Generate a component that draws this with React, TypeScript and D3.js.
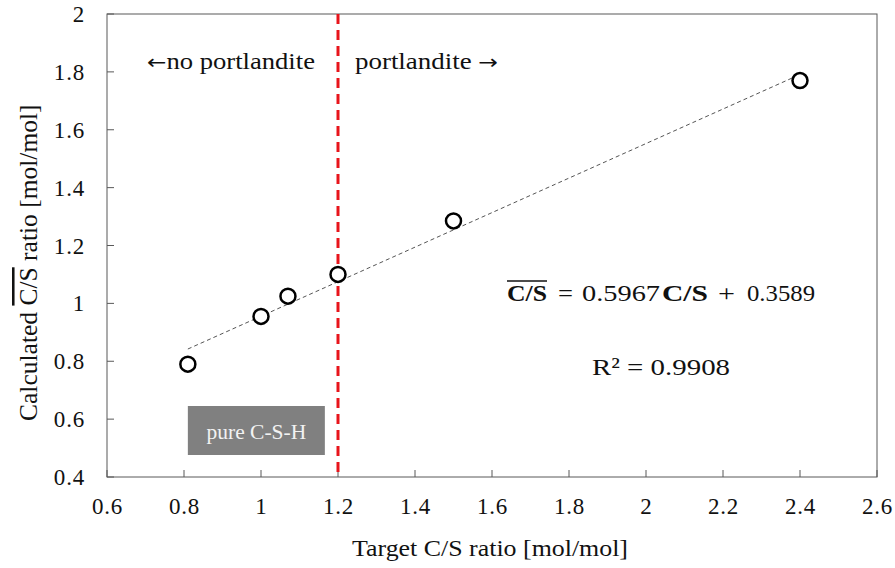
import React from "react";
import * as d3 from "d3";

// Target vs. calculated C/S ratio
const targetCS = [0.81, 1.0, 1.07, 1.2, 1.5, 2.4];
const calculatedCS = [0.79, 0.955, 1.025, 1.1, 1.285, 1.77];
const xTicks = [0.6, 0.8, 1, 1.2, 1.4, 1.6, 1.8, 2, 2.2, 2.4, 2.6];
const yTicks = [0.4, 0.6, 0.8, 1, 1.2, 1.4, 1.6, 1.8, 2];
const fitSlope = 0.5967;
const fitIntercept = 0.3589;
const rSquared = 0.9908;
const portlanditeLimit = 1.2;

const W = 895;
const H = 568;
const M = { left: 107, right: 18, top: 14, bottom: 91 };
const FONT = "'Liberation Serif', 'Times New Roman', serif";
const ARROW_FONT = "'DejaVu Sans', sans-serif";
const INK = "#111";

// Text fitted to a fixed width
function Wide(props: {
  x: number;
  y: number;
  w: number;
  size: number;
  bold?: boolean;
  fill?: string;
  children: React.ReactNode;
}) {
  return (
    <text
      x={props.x}
      y={props.y}
      fontSize={props.size}
      fontWeight={props.bold ? "bold" : "normal"}
      textLength={props.w}
      lengthAdjust="spacingAndGlyphs"
      fill={props.fill ?? INK}
    >
      {props.children}
    </text>
  );
}

export default function App() {
  const x = d3.scaleLinear().domain([0.6, 2.6]).range([M.left, W - M.right]);
  const y = d3.scaleLinear().domain([0.4, 2]).range([H - M.bottom, M.top]);
  const x0 = d3.min(targetCS) as number;
  const x1 = d3.max(targetCS) as number;
  const fitLine = d3
    .line<number>()
    .x((d) => x(d))
    .y((d) => y(fitSlope * d + fitIntercept))([x0, x1]);
  const fmt = (v: number) => String(+v.toFixed(1));

  return (
    <svg
      width={W}
      height={H}
      style={{ position: "absolute", left: 0, top: 0, background: "#fff" }}
      fontFamily={FONT}
    >
      {/* frame */}
      <rect
        x={M.left}
        y={M.top}
        width={W - M.left - M.right}
        height={H - M.top - M.bottom}
        fill="none"
        stroke="#595959"
        strokeWidth={1}
      />
      {/* y ticks */}
      {yTicks.map((t) => (
        <g key={"y" + t}>
          <line x1={M.left} x2={M.left + 7} y1={y(t)} y2={y(t)} stroke="#595959" />
          <text x={85} y={y(t)} dy="0.35em" textAnchor="end" fontSize={23} letterSpacing={0.8} fill={INK}>
            {fmt(t)}
          </text>
        </g>
      ))}
      {/* x ticks */}
      {xTicks.map((t) => (
        <g key={"x" + t}>
          <line x1={x(t)} x2={x(t)} y1={H - M.bottom} y2={H - M.bottom - 7} stroke="#595959" />
          <text x={x(t) + 0.5} y={514} textAnchor="middle" fontSize={23} letterSpacing={0.8} fill={INK}>
            {fmt(t)}
          </text>
        </g>
      ))}
      {/* axis titles */}
      <Wide x={352} y={556} w={276} size={23}>
        Target C/S ratio [mol/mol]
      </Wide>
      <text
        transform="translate(37, 421) rotate(-90)"
        fontSize={25.5}
        fill={INK}
      >
        Calculated <tspan style={{ textDecoration: "overline" }}>C/S</tspan> ratio [mol/mol]
      </text>

      {/* pure C-S-H box */}
      <rect x={x(0.81)} y={406} width={137} height={49} fill="#808080" />
      <text x={x(0.81) + 68.5} y={439} textAnchor="middle" fontSize={21.5} fill="#f2f2f2">
        pure C-S-H
      </text>

      {/* regression line */}
      <path d={fitLine ?? ""} fill="none" stroke="#555" strokeWidth={1} strokeDasharray="4,3" />

      {/* portlandite boundary */}
      <line
        x1={x(portlanditeLimit)}
        x2={x(portlanditeLimit)}
        y1={M.top}
        y2={H - M.bottom}
        stroke="#e8141b"
        strokeWidth={3}
        strokeDasharray="10,6"
      />
      <Wide x={147} y={69} w={168} size={23}>
        <tspan fontFamily={ARROW_FONT} fontSize={20}>←</tspan>no portlandite
      </Wide>
      <Wide x={355} y={69} w={143} size={23}>
        portlandite <tspan fontFamily={ARROW_FONT} fontSize={20}>→</tspan>
      </Wide>

      {/* data */}
      {targetCS.map((t, i) => (
        <circle
          key={i}
          cx={x(t)}
          cy={y(calculatedCS[i])}
          r={7.5}
          fill="#fff"
          stroke="#000"
          strokeWidth={2.5}
        />
      ))}

      {/* regression equation */}
      <Wide x={507} y={301} w={40} size={24} bold>
        C/S
      </Wide>
      <line x1={507} x2={547} y1={281} y2={281} stroke={INK} strokeWidth={1.5} />
      <Wide x={558} y={301} w={15} size={24}>
        =
      </Wide>
      <Wide x={582} y={301} w={78} size={24}>
        {String(fitSlope)}
      </Wide>
      <Wide x={662} y={301} w={46} size={24} bold>
        C/S
      </Wide>
      <Wide x={718} y={301} w={17} size={24}>
        +
      </Wide>
      <Wide x={747} y={301} w={68} size={24}>
        {String(fitIntercept)}
      </Wide>
      <Wide x={592} y={375} w={138} size={24}>
        R² = {rSquared}
      </Wide>
    </svg>
  );
}
